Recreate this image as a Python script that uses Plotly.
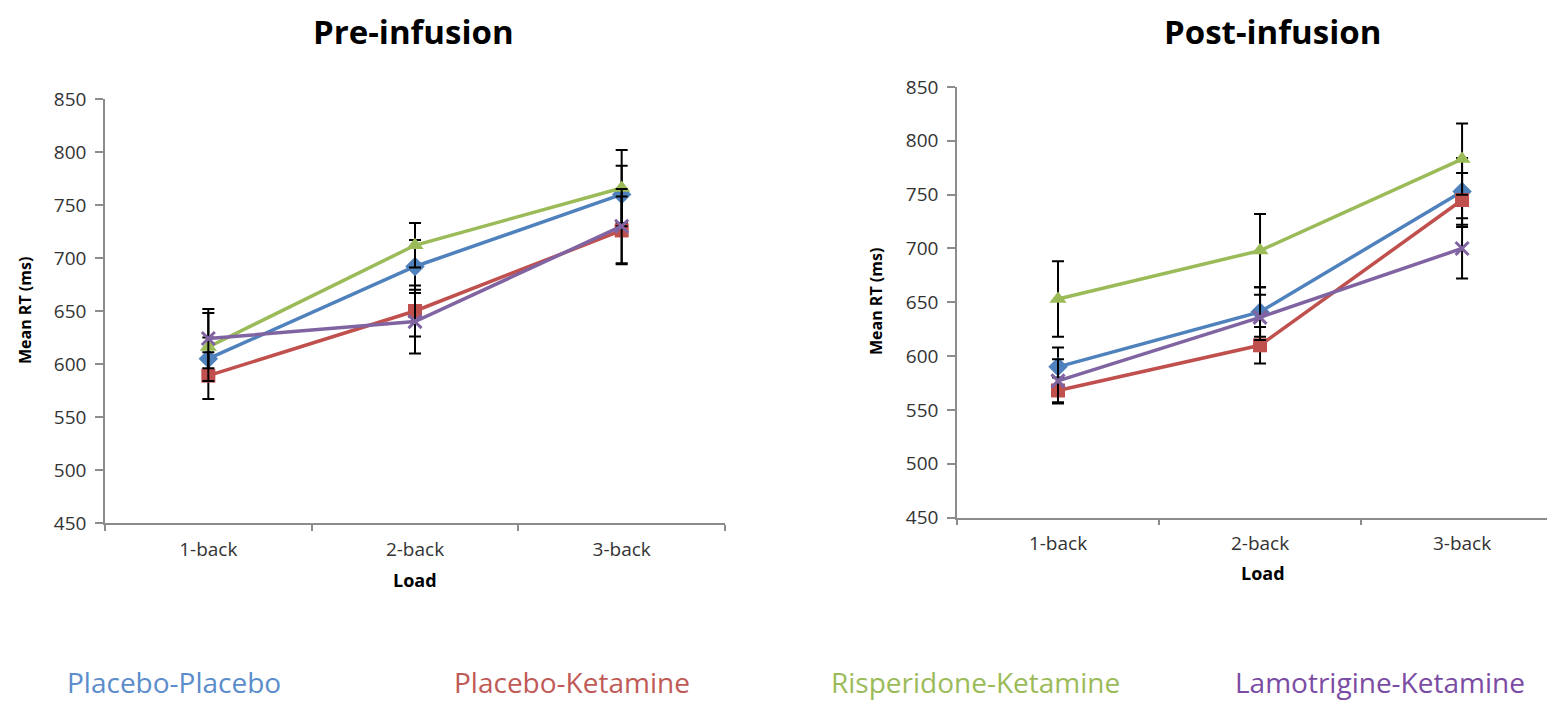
import plotly.graph_objects as go

categories = ["1-back", "2-back", "3-back"]
series_names = ["Placebo-Placebo", "Placebo-Ketamine", "Risperidone-Ketamine", "Lamotrigine-Ketamine"]

pre_values = {
    "Placebo-Placebo": [605, 692, 760],
    "Placebo-Ketamine": [589, 650, 726],
    "Risperidone-Ketamine": [616, 712, 766],
    "Lamotrigine-Ketamine": [624, 640, 730],
}
pre_errors = {
    "Placebo-Placebo": [20, 25, 27],
    "Placebo-Ketamine": [22, 24, 32],
    "Risperidone-Ketamine": [32, 21, 36],
    "Lamotrigine-Ketamine": [28, 30, 35],
}
post_values = {
    "Placebo-Placebo": [590, 641, 753],
    "Placebo-Ketamine": [568, 610, 745],
    "Risperidone-Ketamine": [653, 698, 783],
    "Lamotrigine-Ketamine": [577, 636, 700],
}
post_errors = {
    "Placebo-Placebo": [18, 23, 31],
    "Placebo-Ketamine": [12, 17, 25],
    "Risperidone-Ketamine": [35, 34, 33],
    "Lamotrigine-Ketamine": [20, 21, 28],
}
y_ticks = [450, 500, 550, 600, 650, 700, 750, 800, 850]
panel_titles = ["Pre-infusion", "Post-infusion"]
y_title = "Mean RT (ms)"
x_title = "Load"

colors = {
    "Placebo-Placebo": "#4F81BD",
    "Placebo-Ketamine": "#C0504D",
    "Risperidone-Ketamine": "#9BBB59",
    "Lamotrigine-Ketamine": "#8064A2",
}
legend_colors = {
    "Placebo-Placebo": "#5B8CCB",
    "Placebo-Ketamine": "#C05A57",
    "Risperidone-Ketamine": "#9BBB59",
    "Lamotrigine-Ketamine": "#7B4CA3",
}
symbols = {
    "Placebo-Placebo": "diamond",
    "Placebo-Ketamine": "square",
    "Risperidone-Ketamine": "triangle-up",
    "Lamotrigine-Ketamine": "x-thin",
}
sizes = {
    "Placebo-Placebo": 15,
    "Placebo-Ketamine": 14,
    "Risperidone-Ketamine": 15,
    "Lamotrigine-Ketamine": 13,
}

# the page body has an 8px margin; size the figure to fill the window exactly
OFF = 8
W, H = 1555 - OFF, 702 - OFF
FONT = "Open Sans"
AXIS_COLOR = "#8C8C8C"


def px(x):
    return (x - OFF) / W


def py(y):
    return 1 - (y - OFF) / H


fig = go.Figure()

xpos = [1, 2, 3]
for panel, (vals, errs, xa, ya) in enumerate([
    (pre_values, pre_errors, "x", "y"),
    (post_values, post_errors, "x2", "y2"),
]):
    for name in series_names:
        sym = symbols[name]
        marker = dict(symbol=sym, size=sizes[name], color=colors[name])
        if sym == "x-thin":
            marker["line"] = dict(color=colors[name], width=3)
        fig.add_trace(go.Scatter(
            x=xpos, y=vals[name], xaxis=xa, yaxis=ya,
            mode="lines+markers", name=name, showlegend=False,
            line=dict(color=colors[name], width=3.5),
            marker=marker,
            error_y=dict(type="data", array=errs[name], color="black",
                         thickness=2, width=6),
        ))


def xaxis_cfg(domain, rng):
    return dict(
        domain=domain, range=rng, automargin=False,
        tickmode="array", tickvals=xpos, ticktext=categories,
        ticks="", showline=True, linecolor=AXIS_COLOR, linewidth=1.5,
        showgrid=False, zeroline=False, ticklabelstandoff=8,
        tickfont=dict(family=FONT, size=19, color="#333333"),
        minor=dict(tickmode="array", tickvals=[0.5, 1.5, 2.5, 3.5],
                   ticks="outside", ticklen=6, tickcolor=AXIS_COLOR,
                   tickwidth=1.5, showgrid=False),
        fixedrange=True,
    )


def yaxis_cfg(domain):
    return dict(
        domain=domain, range=[450, 850], automargin=False,
        tickmode="array", tickvals=y_ticks,
        ticks="outside", ticklen=8, tickcolor=AXIS_COLOR, tickwidth=1.5,
        showline=True, linecolor=AXIS_COLOR, linewidth=1.5,
        showgrid=False, zeroline=False, ticklabelstandoff=5,
        tickfont=dict(family=FONT, size=19, color="#333333"),
        fixedrange=True,
    )


fig.update_layout(
    width=W, height=H,
    margin=dict(l=0, r=0, t=0, b=0, autoexpand=False),
    paper_bgcolor="white", plot_bgcolor="white",
    xaxis=dict(**xaxis_cfg([px(105), px(725)], [0.5, 3.5]), anchor="y"),
    yaxis=yaxis_cfg([py(523), py(99)]) | dict(anchor="x"),
    xaxis2=dict(**xaxis_cfg([px(957), 1.0], [0.5, 3.46]), anchor="y2"),
    yaxis2=yaxis_cfg([py(517.5), py(87)]) | dict(anchor="x2"),
    showlegend=False,
)

annotations = []
# panel titles
for title, cx in zip(panel_titles, [413, 1272]):
    annotations.append(dict(
        text=f"<b>{title}</b>", x=px(cx), y=1.0, xref="paper", yref="paper",
        xanchor="center", yanchor="top", showarrow=False, borderpad=0,
        font=dict(family=FONT, size=33, color="black"),
    ))
# y-axis titles
for cx, cy in [(25, 311), (876, 302)]:
    annotations.append(dict(
        text=f"<b>{y_title}</b>", x=px(cx), y=py(cy), xref="paper", yref="paper",
        xanchor="center", yanchor="middle", showarrow=False, textangle=-90,
        font=dict(family=FONT, size=16, color="black"),
    ))
# x-axis titles
for cx, cy in [(415, 580), (1263, 573)]:
    annotations.append(dict(
        text=f"<b>{x_title}</b>", x=px(cx), y=py(cy), xref="paper", yref="paper",
        xanchor="center", yanchor="middle", showarrow=False,
        font=dict(family=FONT, size=18, color="black"),
    ))
# legend as colored text
for name, cx in zip(series_names, [174, 572, 975, 1380]):
    annotations.append(dict(
        text=name, x=px(cx), y=0.0, xref="paper", yref="paper",
        xanchor="center", yanchor="bottom", showarrow=False, borderpad=0,
        font=dict(family=FONT, size=28, color=legend_colors[name]),
    ))

fig.update_layout(annotations=annotations)

fig.write_html("out.html")
